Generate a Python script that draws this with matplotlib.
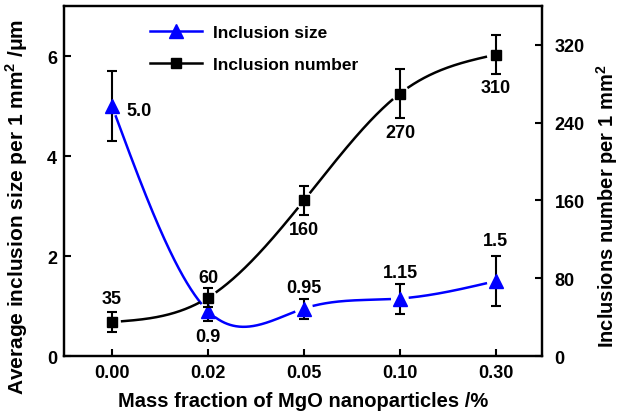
import numpy as np
import matplotlib
matplotlib.use("Agg")
import matplotlib.pyplot as plt
from matplotlib.lines import Line2D

plt.rcParams['font.family'] = ['Liberation Sans', 'DejaVu Sans']
plt.rcParams['mathtext.fontset'] = 'custom'
plt.rcParams['mathtext.rm'] = 'Liberation Sans:bold'
plt.rcParams['mathtext.bf'] = 'Liberation Sans:bold'

# Data
categories = ["0.00", "0.02", "0.05", "0.10", "0.30"]
size_values = [5.0, 0.9, 0.95, 1.15, 1.5]
size_errors = [0.7, 0.2, 0.2, 0.3, 0.5]
size_labels = ["5.0", "0.9", "0.95", "1.15", "1.5"]
number_values = [35, 60, 160, 270, 310]
number_errors = [10, 10, 15, 25, 20]
number_labels = ["35", "60", "160", "270", "310"]
left_ticks = [0, 2, 4, 6]
right_ticks = [0, 80, 160, 240, 320]

BLUE = "#0000ff"


def natural_spline(x, y, xs):
    """Natural cubic spline through (x, y), evaluated at xs."""
    x = np.asarray(x, float)
    y = np.asarray(y, float)
    n = len(x)
    h = np.diff(x)
    A = np.zeros((n, n))
    r = np.zeros(n)
    A[0, 0] = A[-1, -1] = 1.0
    for i in range(1, n - 1):
        A[i, i - 1] = h[i - 1]
        A[i, i] = 2 * (h[i - 1] + h[i])
        A[i, i + 1] = h[i]
        r[i] = 6 * ((y[i + 1] - y[i]) / h[i] - (y[i] - y[i - 1]) / h[i - 1])
    M = np.linalg.solve(A, r)
    k = np.clip(np.searchsorted(x, xs) - 1, 0, n - 2)
    hk = h[k]
    a = x[k + 1] - xs
    b = xs - x[k]
    return (M[k] * a ** 3 / (6 * hk) + M[k + 1] * b ** 3 / (6 * hk)
            + (y[k] / hk - M[k] * hk / 6) * a
            + (y[k + 1] / hk - M[k + 1] * hk / 6) * b)


def gapped_curve(ax, x, y, xs, ys, gap_px):
    """Blank out the curve within gap_px pixels of each data point."""
    disp = ax.transData.transform(np.column_stack([xs, ys]))
    pts = ax.transData.transform(np.column_stack([x, y]))
    out = ys.copy()
    for p in pts:
        d = np.hypot(disp[:, 0] - p[0], disp[:, 1] - p[1])
        out[d < gap_px] = np.nan
    return out


fig = plt.figure(figsize=(6.21, 4.14), dpi=100)
ax = fig.add_axes([64 / 621, 1 - 357 / 414, (542 - 64) / 621, (357 - 7) / 414])
ax2 = ax.twinx()

xpos = np.arange(len(categories))
ax.set_xlim(-0.5, 4.48)
ax.set_ylim(0, 7)
ax2.set_ylim(0, 360)

xs = np.linspace(0, len(categories) - 1, 800)

# Inclusion size (left axis)
ys_size = natural_spline(xpos, size_values, xs)
ax.plot(xs, gapped_curve(ax, xpos, size_values, xs, ys_size, 10),
        color=BLUE, lw=1.8, zorder=2)
ax.errorbar(xpos, size_values, yerr=size_errors, fmt="none", ecolor="black",
            elinewidth=1.5, capsize=3.5, capthick=1.5, zorder=3)
ax.plot(xpos, size_values, linestyle="none", marker="^", markersize=9.5,
        color=BLUE, zorder=4)

# Inclusion number (right axis)
ys_num = natural_spline(xpos, number_values, xs)
ax2.plot(xs, gapped_curve(ax2, xpos, number_values, xs, ys_num, 10),
         color="black", lw=1.8, zorder=2)
ax2.errorbar(xpos, number_values, yerr=number_errors, fmt="none",
             ecolor="black", elinewidth=1.5, capsize=3.5, capthick=1.5,
             zorder=3)
ax2.plot(xpos, number_values, linestyle="none", marker="s", markersize=6.5,
         color="black", zorder=4)

# Value labels
fs = 13
size_offsets = [(19.5, -3), (0, -18), (0, 15), (0, 19), (0, 29.5)]
for i, (v, t) in enumerate(zip(size_values, size_labels)):
    ax.annotate(t, (xpos[i], v), xytext=size_offsets[i], textcoords="offset points",
                ha="center", va="center", fontsize=fs, fontweight="bold")
number_offsets = [(0, 17), (0, 14.5), (0, -21), (0, -28), (0, -24)]
for i, (v, t) in enumerate(zip(number_values, number_labels)):
    ax2.annotate(t, (xpos[i], v), xytext=number_offsets[i], textcoords="offset points",
                 ha="center", va="center", fontsize=fs, fontweight="bold")

# Axes styling
ax.set_xticks(xpos)
ax.set_xticklabels(categories)
ax.set_yticks(left_ticks)
ax2.set_yticks(right_ticks)
for a in (ax, ax2):
    for s in a.spines.values():
        s.set_linewidth(1.6)
    a.tick_params(direction="in", length=5, width=1.5, labelsize=13)
    for lab in a.get_xticklabels() + a.get_yticklabels():
        lab.set_fontweight("bold")
ax.tick_params(axis="x", pad=6)
ax.tick_params(axis="y", pad=5)
ax2.tick_params(axis="y", pad=9)

ax.set_xlabel("Mass fraction of MgO nanoparticles /%", fontsize=14.5,
              fontweight="bold", labelpad=7)
ax.set_ylabel("Average inclusion size per 1 mm$^2$ /\u03bcm", fontsize=15,
              fontweight="bold")
ax.yaxis.set_label_coords(-0.071, 0.43)
ax2.set_ylabel("Inclusions number per 1 mm$^2$", fontsize=14.5,
               fontweight="bold")
ax2.yaxis.set_label_coords(1.11, 0.43)

handles = [
    Line2D([], [], color=BLUE, lw=1.8, marker="^", markersize=9.5),
    Line2D([], [], color="black", lw=1.8, marker="s", markersize=6.5),
]
ax.legend(handles, ["Inclusion size", "Inclusion number"], loc="upper left",
          bbox_to_anchor=(0.148, 0.99), frameon=False, handlelength=3.0,
          prop={"weight": "bold", "size": 12.5}, labelspacing=0.95,
          handletextpad=0.6)

fig.savefig("out.png", dpi=100)
